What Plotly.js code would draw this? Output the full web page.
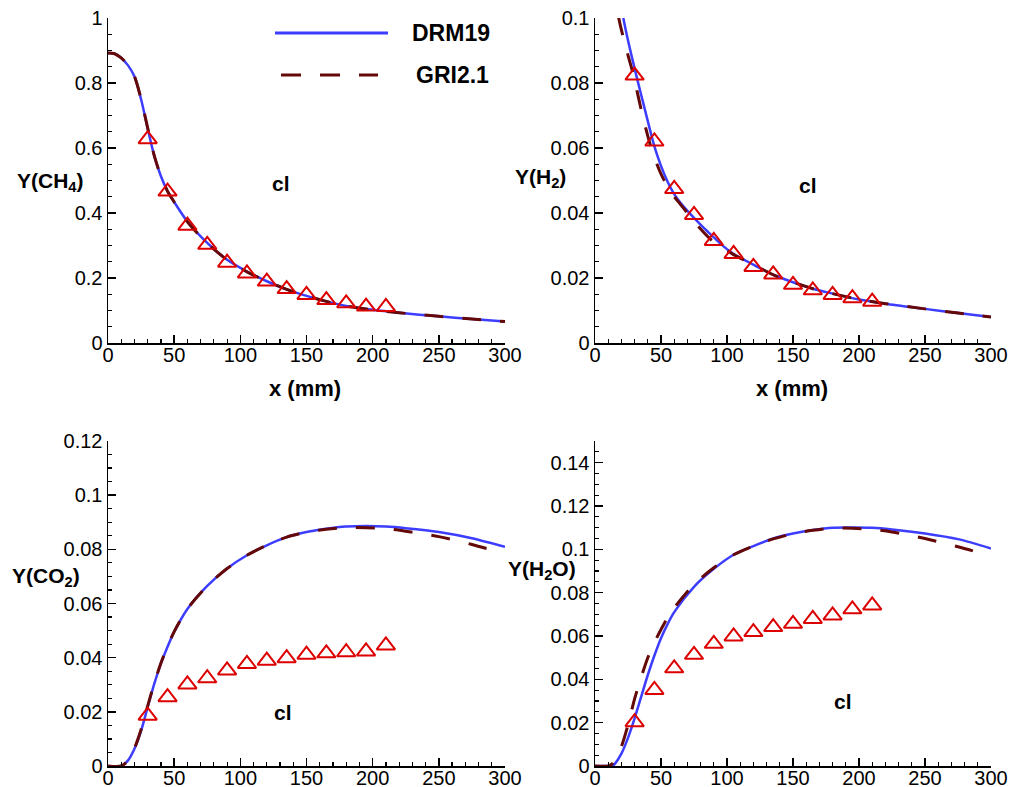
<!DOCTYPE html>
<html>
<head>
<meta charset="utf-8">
<script src="https://cdn.plot.ly/plotly-3.0.1.min.js"></script>
<style>html,body{margin:0;padding:0;background:#fff;}#chart{width:1010px;height:787px;}</style>
</head>
<body>
<div id="chart"></div>
<script>
// ---------- data ----------
const ch4X = [0, 5, 10, 15, 20, 25, 30, 35, 40, 45, 50, 60, 75, 90, 105, 120, 135, 150, 165, 180, 200, 220, 250, 275, 300];
const ch4DRM = [0.892, 0.89, 0.877, 0.855, 0.82, 0.75, 0.66, 0.575, 0.513, 0.467, 0.434, 0.374, 0.308, 0.256, 0.22, 0.19, 0.165, 0.145, 0.128, 0.114, 0.102, 0.093, 0.082, 0.074, 0.066];
const ch4GRI = [0.892, 0.89, 0.877, 0.855, 0.82, 0.751, 0.661, 0.576, 0.513, 0.467, 0.434, 0.373, 0.307, 0.256, 0.219, 0.19, 0.165, 0.145, 0.128, 0.114, 0.102, 0.093, 0.082, 0.074, 0.066];

const h2XDRM = [15, 21.5, 30, 38, 45, 50, 55, 60, 66, 75, 83, 90, 96, 105, 120, 135, 150, 165, 180, 200, 220, 250, 275, 300];
const h2DRM = [0.122, 0.1, 0.0845, 0.0715, 0.0605, 0.0545, 0.0496, 0.0458, 0.0425, 0.0385, 0.0352, 0.0325, 0.0302, 0.0274, 0.0241, 0.021, 0.0187, 0.0167, 0.0152, 0.0134, 0.0121, 0.0105, 0.0092, 0.008];
const h2XGRI = [14, 18, 24, 29, 36, 43, 50, 57, 65, 72, 78, 90, 105, 120, 135, 150, 165, 180, 200, 220, 250, 275, 300];
const h2GRI = [0.112, 0.1, 0.09, 0.0826, 0.07, 0.0595, 0.052, 0.0467, 0.0425, 0.039, 0.036, 0.031, 0.0272, 0.0241, 0.021, 0.0187, 0.0167, 0.0152, 0.0134, 0.0121, 0.0105, 0.0092, 0.008];

const co2X = [0, 10, 15, 20, 25, 30, 35, 40, 45, 50, 60, 75, 90, 105, 120, 135, 150, 165, 180, 195, 210, 225, 250, 275, 300];
const co2DRM = [0, 0, 0.002, 0.0064, 0.013, 0.0218, 0.0304, 0.0378, 0.044, 0.0495, 0.058, 0.0665, 0.0729, 0.0778, 0.0815, 0.0845, 0.0864, 0.0876, 0.0884, 0.0886, 0.0884, 0.0878, 0.0864, 0.0841, 0.0809];
const co2GRI = [0, 0, 0.002, 0.0066, 0.0135, 0.0222, 0.0306, 0.038, 0.0442, 0.0496, 0.058, 0.0665, 0.0729, 0.0778, 0.0815, 0.0845, 0.0863, 0.0874, 0.088, 0.088, 0.0877, 0.0867, 0.0847, 0.0818, 0.0784];

const h2oX = [0, 10, 13, 15, 20, 25, 30, 35, 40, 45, 50, 55, 60, 75, 90, 105, 120, 135, 150, 165, 180, 195, 210, 225, 250, 275, 300];
const h2oDRM = [0, 0, 0, 0.001, 0.0057, 0.013, 0.022, 0.032, 0.042, 0.051, 0.059, 0.0655, 0.071, 0.0827, 0.091, 0.0975, 0.1015, 0.105, 0.1073, 0.1089, 0.11, 0.1101, 0.11, 0.1092, 0.1073, 0.1047, 0.1004];
const h2oGRI = [0, 0, 0.001, 0.003, 0.009, 0.019, 0.031, 0.041, 0.05, 0.057, 0.063, 0.0685, 0.073, 0.0838, 0.0915, 0.0975, 0.1015, 0.1048, 0.1072, 0.1088, 0.1098, 0.1097, 0.1092, 0.108, 0.105, 0.1012, 0.0969];

const expX = [30, 45, 60, 75, 90, 105, 120, 135, 150, 165, 180, 195, 210];
const expCH4 = [0.627, 0.466, 0.361, 0.302, 0.247, 0.214, 0.189, 0.166, 0.148, 0.132, 0.122, 0.112, 0.111];
const expH2 = [0.0823, 0.062, 0.0474, 0.0394, 0.0314, 0.0274, 0.0234, 0.0211, 0.0179, 0.0162, 0.0148, 0.0138, 0.0127];
const expCO2 = [0.0186, 0.0254, 0.0301, 0.0324, 0.0353, 0.0377, 0.0389, 0.0398, 0.0411, 0.0416, 0.042, 0.0423, 0.0445];
const expH2O = [0.0202, 0.0351, 0.0451, 0.0513, 0.0564, 0.0598, 0.0618, 0.0641, 0.0656, 0.0679, 0.0695, 0.0723, 0.0741];

const seriesNames = ['DRM19', 'GRI2.1'];
const yTitles = ['Y(CH<sub>4</sub>)', 'Y(H<sub>2</sub>)', 'Y(CO<sub>2</sub>)', 'Y(H<sub>2</sub>O)'];
const xTitle = 'x (mm)';
const panelLabel = 'cl';

// ---------- styles ----------
const BLUE = '#3d3dff';
const DRED = '#650808';
const RED = '#dd0000';
const FONT = 'Liberation Sans, Arial, sans-serif';
const W = 1010, H = 787;

const panels = [
  {xa:'x', ya:'y', xs:[ch4X, ch4X], ys:[ch4DRM, ch4GRI], exp:expCH4},
  {xa:'x2', ya:'y2', xs:[h2XDRM, h2XGRI], ys:[h2DRM, h2GRI], exp:expH2},
  {xa:'x3', ya:'y3', xs:[co2X, co2X], ys:[co2DRM, co2GRI], exp:expCO2},
  {xa:'x4', ya:'y4', xs:[h2oX, h2oX], ys:[h2oDRM, h2oGRI], exp:expH2O}
];

const traces = [];
panels.forEach(p => {
  traces.push({x:p.xs[0], y:p.ys[0], xaxis:p.xa, yaxis:p.ya, mode:'lines', name:seriesNames[0],
    line:{color:BLUE, width:2.5, shape:'spline', smoothing:0.8}, showlegend:false});
  traces.push({x:p.xs[1], y:p.ys[1], xaxis:p.xa, yaxis:p.ya, mode:'lines', name:seriesNames[1],
    line:{color:DRED, width:3, dash:'19px,19px', shape:'spline', smoothing:0.8}, showlegend:false});
  traces.push({x:expX, y:p.exp, xaxis:p.xa, yaxis:p.ya, mode:'markers', name:'exp',
    marker:{symbol:'triangle-up-open', size:16, color:RED, line:{color:RED, width:2}}, showlegend:false, cliponaxis:false});
});

function xAxis(domain, anchor) {
  return {domain:domain, anchor:anchor, range:[0,300], dtick:50, tick0:0, ticks:'inside', ticklen:8, tickwidth:1.5,
    tickcolor:'#000', showline:true, linecolor:'#000', linewidth:1.5, showgrid:false, zeroline:false,
    minor:{dtick:10, ticks:'inside', ticklen:4, tickwidth:1.2, tickcolor:'#000', showgrid:false},
    ticklabelstandoff:-7,
    tickfont:{family:FONT, size:20, color:'#000'}, automargin:false, fixedrange:true};
}
function yAxis(domain, anchor, range, dtick, minor) {
  return {domain:domain, anchor:anchor, range:range, dtick:dtick, tick0:0, ticks:'inside', ticklen:8, tickwidth:1.5,
    tickcolor:'#000', showline:true, linecolor:'#000', linewidth:1.5, showgrid:false, zeroline:false,
    minor:{dtick:minor, ticks:'inside', ticklen:4, tickwidth:1.2, tickcolor:'#000', showgrid:false},
    tickfont:{family:FONT, size:20, color:'#000'}, automargin:false, fixedrange:true};
}
const px = v => v / W;
const py = v => 1 - v / H;

const xdL = [px(108), px(505)], xdR = [px(595), px(991)];
const ydT = [py(343), py(18)], ydB = [py(766), py(441)];

const bold = t => '<b>' + t + '</b>';
const tf = {family:FONT, size:21, color:'#000'};

const annotations = [
  {xref:'paper', yref:'paper', x:px(86), y:py(182), xanchor:'right', yanchor:'middle', text:bold(yTitles[0]), showarrow:false, font:tf},
  {xref:'paper', yref:'paper', x:px(568), y:py(178), xanchor:'right', yanchor:'middle', text:bold(yTitles[1]), showarrow:false, font:tf},
  {xref:'paper', yref:'paper', x:px(82), y:py(577), xanchor:'right', yanchor:'middle', text:bold(yTitles[2]), showarrow:false, font:tf},
  {xref:'paper', yref:'paper', x:px(578), y:py(570), xanchor:'right', yanchor:'middle', text:bold(yTitles[3]), showarrow:false, font:tf},
  {xref:'paper', yref:'paper', x:px(305), y:py(388), xanchor:'center', yanchor:'middle', text:bold(xTitle), showarrow:false, font:{family:FONT, size:22, color:'#000'}},
  {xref:'paper', yref:'paper', x:px(792), y:py(388), xanchor:'center', yanchor:'middle', text:bold(xTitle), showarrow:false, font:{family:FONT, size:22, color:'#000'}},
  {xref:'x', yref:'y', x:131, y:0.49, text:bold(panelLabel), showarrow:false, font:tf},
  {xref:'x2', yref:'y2', x:161, y:0.0486, text:bold(panelLabel), showarrow:false, font:tf},
  {xref:'x3', yref:'y3', x:132, y:0.0196, text:bold(panelLabel), showarrow:false, font:tf},
  {xref:'x4', yref:'y4', x:188, y:0.030, text:bold(panelLabel), showarrow:false, font:tf},
  {xref:'paper', yref:'paper', x:px(492), y:py(33), xanchor:'right', yanchor:'middle', text:bold(seriesNames[0]), showarrow:false, font:{family:FONT, size:23, color:'#000'}},
  {xref:'paper', yref:'paper', x:px(491), y:py(75), xanchor:'right', yanchor:'middle', text:bold(seriesNames[1]), showarrow:false, font:{family:FONT, size:23, color:'#000'}}
];

const shapes = [
  {type:'line', xref:'paper', yref:'paper', x0:px(275), x1:px(388), y0:py(33), y1:py(33), line:{color:BLUE, width:3}},
  {type:'line', xref:'paper', yref:'paper', x0:px(281), x1:px(378), y0:py(75), y1:py(75), line:{color:DRED, width:3, dash:'20px,19px'}}
];

const layout = {
  width:W, height:H, margin:{l:0, r:0, t:0, b:0}, paper_bgcolor:'#fff', plot_bgcolor:'rgba(0,0,0,0)',
  showlegend:false, font:{family:FONT, color:'#000'},
  xaxis:xAxis(xdL, 'y'), yaxis:yAxis(ydT, 'x', [0,1], 0.2, 0.05),
  xaxis2:xAxis(xdR, 'y2'), yaxis2:yAxis(ydT, 'x2', [0,0.1], 0.02, 0.005),
  xaxis3:xAxis(xdL, 'y3'), yaxis3:yAxis(ydB, 'x3', [0,0.12], 0.02, 0.005),
  xaxis4:xAxis(xdR, 'y4'), yaxis4:yAxis(ydB, 'x4', [0,0.15], 0.02, 0.005),
  annotations:annotations, shapes:shapes
};

Plotly.newPlot('chart', traces, layout, {displayModeBar:false, staticPlot:true});
</script>
</body>
</html>
